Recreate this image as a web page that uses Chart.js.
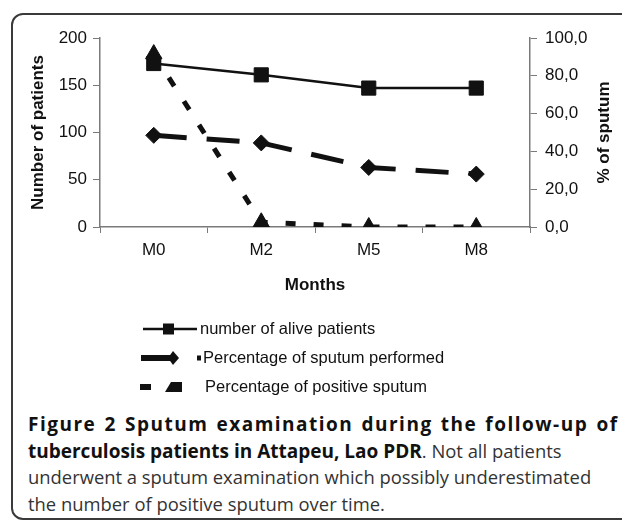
<!DOCTYPE html>
<html lang="en">
  <head>
    <meta charset="UTF-8" />
    <title>Sputum examination</title>
    <script src="https://cdn.jsdelivr.net/npm/chart.js"></script>
    <style>
      html, body { margin: 0; padding: 0; background: #fff; }
      body { width: 622px; height: 523px; position: relative; overflow: hidden; }
      .frame {
        position: absolute; left: 11px; top: 13px; width: 660px; height: 507px;
        border: 2px solid #3a3a3a; border-radius: 12px; box-sizing: border-box;
      }
      #chartWrap { position: absolute; left: 0; top: 0; width: 622px; height: 400px; }
      .caption {
        position: absolute; left: 28px; top: 411px; width: 589px;
        font-family: "Open Sans", sans-serif; font-size: 18.4px; line-height: 26.5px;
        color: #333; white-space: nowrap;
      }
      .caption .first { text-align: justify; text-align-last: justify; letter-spacing: 1.5px; margin-right: -1.5px; }
      .caption b { color: #111; font-size: 19px; }
    </style>
  </head>
  <body>
    <div class="frame"></div>
    <div id="chartWrap"><canvas id="chart" width="622" height="400"></canvas></div>
    <div class="caption">
      <div class="first"><b>Figure 2 Sputum examination during the follow-up of</b></div>
      <div><b>tuberculosis patients in Attapeu, Lao PDR</b>. Not all patients</div>
      <div>underwent a sputum examination which possibly underestimated</div>
      <div>the number of positive sputum over time.</div>
    </div>

    <script>
      // data
      const months = ["M0", "M2", "M5", "M8"];
      const alivePatients = [173, 161, 147, 147];
      const sputumPerformed = [48.5, 44.5, 31.5, 28.0];
      const positiveSputum = [91.5, 2.5, 0, 0];
      const leftTicks = [0, 50, 100, 150, 200];
      const rightTicks = [0, 20, 40, 60, 80, 100];

      const axisColor = "#7a7a7a";
      const tickFont = { family: "Liberation Sans, Arial", size: 17 };
      const titleFont = { family: "Liberation Sans, Arial", size: 17, weight: "bold" };

      // legend under the chart + right axis title (reads bottom-to-top in the original)
      const extrasPlugin = {
        id: "extras",
        afterDraw(chart) {
          const ctx = chart.ctx;
          const ds = chart.data.datasets;
          const rows = [329, 358, 387];
          ctx.save();
          ctx.fillStyle = "#111";
          ctx.strokeStyle = "#111";
          ctx.font = "16.5px Liberation Sans, Arial";
          ctx.textBaseline = "middle";

          // row 1
          let y = rows[0];
          ctx.lineWidth = 2.5;
          ctx.beginPath(); ctx.moveTo(143, y); ctx.lineTo(197, y); ctx.stroke();
          ctx.fillRect(163, y - 5.5, 11, 11);
          ctx.fillText(ds[0].label, 200, y);

          // row 2
          y = rows[1];
          ctx.fillRect(141, y - 3, 32, 6);
          ctx.beginPath();
          ctx.moveTo(173, y - 7); ctx.lineTo(179, y); ctx.lineTo(173, y + 7); ctx.lineTo(168, y);
          ctx.closePath(); ctx.fill();
          ctx.fillRect(197, y - 2.5, 4, 5);
          ctx.fillText(ds[1].label, 203, y);

          // row 3
          y = rows[2];
          ctx.fillRect(140, y - 3, 11, 6);
          ctx.beginPath();
          ctx.moveTo(171, y - 5); ctx.lineTo(182, y - 5); ctx.lineTo(182, y + 5); ctx.lineTo(165, y + 5);
          ctx.closePath(); ctx.fill();
          ctx.fillText(ds[2].label, 205, y);

          // right axis title
          const area = chart.chartArea;
          ctx.translate(604, (area.top + area.bottom) / 2);
          ctx.rotate(-Math.PI / 2);
          ctx.textAlign = "center";
          ctx.font = "bold 17px Liberation Sans, Arial";
          ctx.fillText(chart.options.scales.y1.title.text, 0, 0);
          ctx.restore();
        },
      };

      new Chart(document.getElementById("chart"), {
        type: "line",
        data: {
          labels: months,
          datasets: [
            {
              label: "number of alive patients",
              data: alivePatients,
              yAxisID: "y",
              borderColor: "#111",
              backgroundColor: "#111",
              borderWidth: 2.5,
              pointStyle: "rect",
              pointRadius: 10,
              pointHoverRadius: 10,
              pointBorderWidth: 1,
            },
            {
              label: "Percentage of sputum performed",
              data: sputumPerformed,
              yAxisID: "y1",
              borderColor: "#111",
              backgroundColor: "#111",
              borderWidth: 5,
              borderDash: [33, 20],
              pointStyle: "rectRot",
              pointRadius: 8,
              pointHoverRadius: 8,
              pointBorderWidth: 1,
            },
            {
              label: "Percentage of positive sputum",
              data: positiveSputum,
              yAxisID: "y1",
              borderColor: "#111",
              backgroundColor: "#111",
              borderWidth: 5,
              borderDash: [10, 18],
              pointStyle: "triangle",
              pointRadius: 9.5,
              pointHoverRadius: 9.5,
              pointBorderWidth: 1,
            },
          ],
        },
        options: {
          responsive: false,
          animation: false,
          layout: { padding: { top: 38, bottom: 100, left: 0, right: 0 } },
          plugins: { legend: { display: false }, tooltip: { enabled: false } },
          scales: {
            x: {
              offset: true,
              grid: { offset: true, drawOnChartArea: false, color: axisColor, tickLength: 6 },
              border: { color: axisColor, width: 1.5 },
              ticks: { color: "#111", font: tickFont, padding: 7 },
              title: { display: true, text: "Months", color: "#111", font: titleFont, padding: { top: 3 } },
              afterFit(s) { s.height = 73; },
            },
            y: {
              position: "left",
              min: 0,
              max: 200,
              afterBuildTicks(s) { s.ticks = leftTicks.map((v) => ({ value: v })); },
              grid: { drawOnChartArea: false, color: axisColor, tickLength: 7 },
              border: { color: axisColor, width: 1.5 },
              ticks: { color: "#111", font: tickFont, padding: 6 },
              title: { display: true, text: "Number of patients", color: "#111", font: titleFont, padding: { top: 28, bottom: 0 } },
              afterFit(s) { s.width = 100; },
            },
            y1: {
              position: "right",
              min: 0,
              max: 100,
              afterBuildTicks(s) { s.ticks = rightTicks.map((v) => ({ value: v })); },
              grid: { drawOnChartArea: false, color: axisColor, tickLength: 7 },
              border: { color: axisColor, width: 1.5 },
              ticks: {
                color: "#111",
                font: tickFont,
                padding: 8,
                callback: (v) => v.toFixed(1).replace(".", ","),
              },
              title: { display: false, text: "% of sputum" },
              afterFit(s) { s.width = 92; },
            },
          },
        },
        plugins: [extrasPlugin],
      });
    </script>
  </body>
</html>
